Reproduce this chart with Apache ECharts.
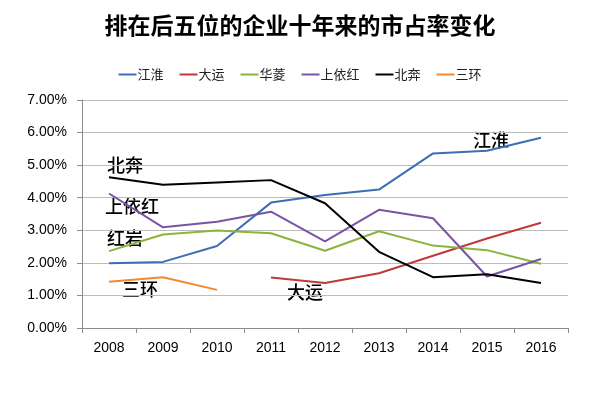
<!DOCTYPE html>
<html>
<head>
<meta charset="utf-8">
<script src="https://cdn.jsdelivr.net/npm/echarts@6/dist/echarts.min.js"></script>
<style>
  html, body { margin: 0; padding: 0; background: #fff; }
  #chart { width: 600px; height: 399px; }
</style>
</head>
<body>
<div id="chart"></div>
<script>
// 年份
var years = ['2008', '2009', '2010', '2011', '2012', '2013', '2014', '2015', '2016'];
// 市占率 (%)
var jianghuai = [1.99, 2.03, 2.52, 3.85, 4.08, 4.25, 5.36, 5.44, 5.84];
var dayun = [null, null, null, 1.55, 1.38, 1.68, 2.22, 2.75, 3.23];
var hualing = [2.36, 2.87, 2.99, 2.91, 2.37, 2.97, 2.53, 2.39, 1.97];
var shangyihong = [4.13, 3.09, 3.26, 3.57, 2.66, 3.63, 3.37, 1.58, 2.12];
var beiben = [4.63, 4.40, 4.47, 4.54, 3.83, 2.34, 1.56, 1.65, 1.38];
var sanhuan = [1.42, 1.56, 1.17, null, null, null, null, null, null];

var font = '"Noto Sans CJK SC", sans-serif';
var noteFont = '500 18px ' + font;

function line(name, color, data) {
  return {
    name: name,
    type: 'line',
    showSymbol: false,
    symbol: 'none',
    connectNulls: false,
    itemStyle: { color: color },
    lineStyle: { width: 2, color: color },
    data: data
  };
}

var chart = echarts.init(document.getElementById('chart'));
chart.setOption({
  backgroundColor: '#fff',
  animation: false,
  textStyle: { fontFamily: font },
  title: {
    left: 'center',
    top: 9,
    text: '排在后五位的企业十年来的市占率变化',
    textStyle: {
      color: '#000',
      fontSize: 23,
      fontWeight: 'bold',
      fontFamily: font
    }
  },
  legend: {
    top: 63,
    left: 'center',
    itemWidth: 18,
    itemHeight: 2,
    itemGap: 16,
    icon: 'rect',
    textStyle: { color: '#222', fontSize: 13, padding: [0, 0, 0, -4] },
    data: ['江淮', '大运', '华菱', '上依红', '北奔', '三环']
  },
  grid: {
    top: 100,
    left: 82,
    right: 32,
    bottom: 71
  },
  xAxis: {
    type: 'category',
    data: years,
    boundaryGap: true,
    axisLine: { lineStyle: { color: '#8c8c8c' } },
    axisTick: { show: true, length: 5, alignWithLabel: false, lineStyle: { color: '#8c8c8c' } },
    axisLabel: { color: '#000', fontSize: 14, margin: 13, fontFamily: 'Liberation Sans' }
  },
  yAxis: {
    type: 'value',
    min: 0,
    max: 7,
    interval: 1,
    axisLine: { show: true, lineStyle: { color: '#8c8c8c' } },
    axisTick: { show: true, length: 5, lineStyle: { color: '#8c8c8c' } },
    splitLine: { lineStyle: { color: '#bdbdbd' } },
    axisLabel: {
      color: '#000',
      fontSize: 14,
      margin: 15,
      fontFamily: 'Liberation Sans',
      formatter: function (v) { return v.toFixed(2) + '%'; }
    }
  },
  graphic: [
    { type: 'text', left: 107, top: 156, style: { text: '北奔', fill: '#000', font: noteFont } },
    { type: 'text', left: 105, top: 197, style: { text: '上依红', fill: '#000', font: noteFont } },
    { type: 'text', left: 107, top: 229, style: { text: '红岩', fill: '#000', font: noteFont } },
    { type: 'text', left: 122, top: 280, style: { text: '三环', fill: '#000', font: noteFont } },
    { type: 'text', left: 287, top: 283, style: { text: '大运', fill: '#000', font: noteFont } },
    { type: 'text', left: 473, top: 131, style: { text: '江淮', fill: '#000', font: noteFont } }
  ],
  series: [
    line('江淮', '#3c6eb4', jianghuai),
    line('大运', '#c0393a', dayun),
    line('华菱', '#8cb33a', hualing),
    line('上依红', '#7a54a4', shangyihong),
    line('北奔', '#000000', beiben),
    line('三环', '#f08a2c', sanhuan)
  ]
});
</script>
</body>
</html>
